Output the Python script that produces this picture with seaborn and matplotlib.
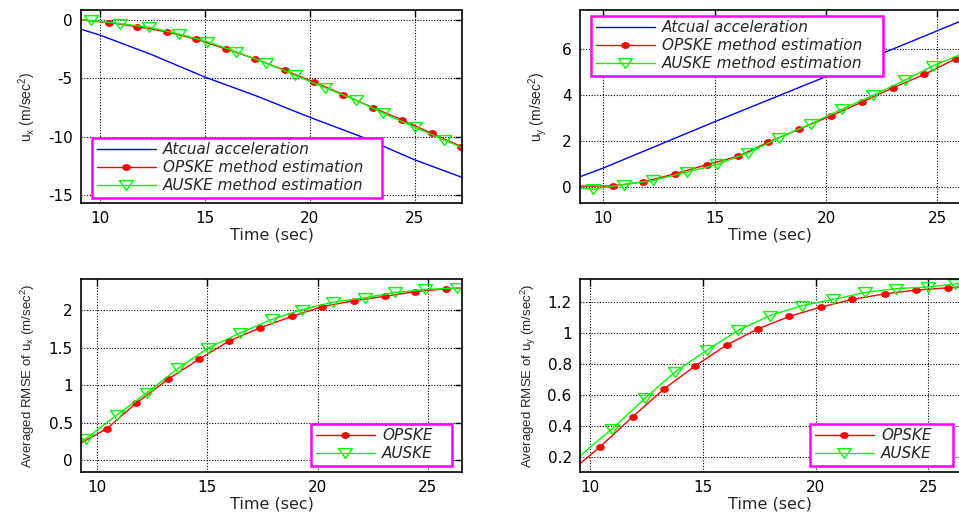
import numpy as np
import pandas as pd
import seaborn as sns
import matplotlib
matplotlib.use("Agg")
import matplotlib.pyplot as plt
from matplotlib.lines import Line2D
from matplotlib.path import Path
from matplotlib.ticker import FormatStrFormatter

# ---------------- data ----------------
# top-left: u_x
t_ux_actual = [9.1, 10.0, 12.5, 15.0, 17.5, 20.0, 22.5, 25.0, 27.25]
ux_actual = [-0.8, -1.3, -3.0, -4.9, -6.55, -8.35, -10.05, -12.0, -13.5]
t_ux_opske = [9.1, 10.43, 11.76, 13.2, 14.6, 16.0, 17.4, 18.8, 20.2, 21.6, 23.0, 24.4, 25.8, 27.22]
ux_opske = [0.0, -0.23, -0.57, -1.03, -1.66, -2.49, -3.34, -4.31, -5.34, -6.4, -7.52, -8.58, -9.72, -10.86]
t_ux_auske = [9.1, 9.6, 10.95, 12.35, 13.75, 15.1, 16.5, 17.9, 19.3, 20.7, 22.2, 23.5, 25.0, 26.4, 27.25]
ux_auske = [0.02, -0.05, -0.32, -0.63, -1.2, -1.86, -2.74, -3.68, -4.75, -5.8, -6.88, -8.0, -9.2, -10.3, -10.95]

# top-right: u_y
t_uy_actual = [8.95, 10.0, 15.0, 20.0, 25.0, 26.0]
uy_actual = [0.46, 0.84, 2.85, 4.81, 6.8, 7.2]
t_uy_opske = [8.95, 10.42, 11.8, 13.23, 14.64, 16.06, 17.4, 18.8, 20.21, 21.63, 23.02, 24.41, 25.82, 26.0]
uy_opske = [0.05, 0.06, 0.24, 0.59, 0.98, 1.35, 1.96, 2.53, 3.1, 3.71, 4.33, 4.9, 5.58, 5.64]
t_uy_auske = [8.95, 9.55, 10.93, 12.25, 13.75, 15.12, 16.51, 17.89, 19.31, 20.73, 22.12, 23.55, 24.82, 26.0]
uy_auske = [-0.04, -0.08, 0.12, 0.3, 0.66, 1.0, 1.5, 2.15, 2.76, 3.4, 4.0, 4.66, 5.28, 5.75]

# bottom-left: RMSE of u_x
t_rx_opske = [9.29, 10.45, 11.78, 13.22, 14.64, 15.98, 17.41, 18.84, 20.2, 21.63, 23.06, 24.39, 25.8, 26.54]
rx_opske = [0.23, 0.42, 0.76, 1.08, 1.35, 1.59, 1.77, 1.92, 2.05, 2.13, 2.19, 2.25, 2.29, 2.30]
t_rx_auske = [9.29, 9.52, 10.9, 12.27, 13.7, 15.06, 16.5, 17.93, 19.29, 20.68, 22.16, 23.52, 24.88, 26.31, 26.54]
rx_auske = [0.25, 0.29, 0.6, 0.9, 1.23, 1.5, 1.7, 1.88, 2.01, 2.11, 2.17, 2.24, 2.28, 2.3, 2.31]

# bottom-right: RMSE of u_y
t_ry_opske = [9.56, 10.44, 11.89, 13.28, 14.67, 16.06, 17.46, 18.84, 20.23, 21.63, 23.08, 24.46, 25.86, 26.4]
ry_opske = [0.157, 0.265, 0.46, 0.64, 0.79, 0.925, 1.03, 1.11, 1.17, 1.22, 1.256, 1.28, 1.295, 1.30]
t_ry_auske = [9.56, 11.0, 12.44, 13.77, 15.17, 16.58, 17.98, 19.39, 20.79, 22.2, 23.57, 25.0, 26.18, 26.4]
ry_auske = [0.207, 0.384, 0.58, 0.75, 0.89, 1.02, 1.115, 1.18, 1.22, 1.265, 1.29, 1.30, 1.32, 1.325]

xticks = [10, 15, 20, 25]
legend_top = ["Atcual acceleration", "OPSKE method estimation", "AUSKE method estimation"]
legend_bottom = ["OPSKE", "AUSKE"]

# ---------------- style ----------------
sns.set_style("white")
plt.rcParams["font.family"] = ["DejaVu Sans"]
plt.rcParams["axes.unicode_minus"] = False

NARROW = ["Liberation Sans Narrow", "Liberation Sans", "DejaVu Sans"]
BLUE = (0, 0, 1)
RED = (1, 0, 0)
GREEN = (0, 1, 0)
MAGENTA = (1, 0, 1)

# markers slightly wider than tall (as in the horizontally stretched original)
_ang = np.linspace(0, 2 * np.pi, 25)
DOT = Path(np.column_stack([np.cos(_ang), 0.75 * np.sin(_ang)]), closed=True)
TRI = Path([(-1, 0.7), (1, 0.7), (0, -0.7), (-1, 0.7)], closed=True)
DOT_MS = 5.2
TRI_MS = 10

fig = plt.figure(figsize=(9.59, 5.13), dpi=100)
W, H = 959, 513


def axes_px(x0, y0, x1, y1):
    return fig.add_axes([x0 / W, 1 - y1 / H, (x1 - x0) / W, (y1 - y0) / H])


ax_tl = axes_px(81, 10, 462, 203)
ax_tr = axes_px(580, 10, 959, 203)
ax_bl = axes_px(81, 279, 462, 472)
ax_br = axes_px(580, 279, 959, 472)


def draw(ax, t, v, color, marker=None, ms=None, mfc=None, markevery=None):
    df = pd.DataFrame({"t": t, "v": v})
    kw = dict(color=color, linewidth=1.0, estimator=None, sort=False, ax=ax, legend=False)
    if marker is not None:
        kw.update(marker=marker, markersize=ms, markevery=markevery,
                  markerfacecolor=mfc, markeredgecolor=color, markeredgewidth=1.0)
    sns.lineplot(data=df, x="t", y="v", **kw)


def style(ax, xlim, ylim, yticks, yfmt=None, right_cut=False):
    ax.set_xlim(*xlim)
    ax.set_ylim(*ylim)
    ax.set_xticks(xticks)
    ax.set_yticks(yticks)
    if yfmt:
        ax.yaxis.set_major_formatter(FormatStrFormatter(yfmt))
    ax.grid(True, color="k", linestyle=(0, (1, 1.5)), linewidth=0.8)
    ax.tick_params(direction="in", length=5, width=1, top=True, right=not right_cut,
                   labelsize=11, colors="k", pad=6)
    for s in ax.spines.values():
        s.set_color("k")
        s.set_linewidth(1.2)
    if right_cut:
        ax.spines["right"].set_visible(False)
    ax.set_xlabel("Time (sec)", fontsize=11.5, labelpad=1)


def legend(ax, labels, bbox, fontsize):
    handles = []
    if len(labels) == 3:
        handles.append(Line2D([], [], color=BLUE, linewidth=1.0))
    handles.append(Line2D([], [], color=RED, linewidth=1.0, marker=DOT, markersize=DOT_MS,
                          markerfacecolor=RED, markeredgecolor=RED))
    handles.append(Line2D([], [], color=GREEN, linewidth=1.0, marker=TRI, markersize=TRI_MS,
                          markerfacecolor="none", markeredgecolor=GREEN))
    leg = ax.legend(handles, labels, loc="lower left", bbox_to_anchor=bbox, mode="expand",
                    bbox_transform=fig.transFigure, prop={"style": "italic", "size": fontsize},
                    handlelength=3.9, handletextpad=0.45, labelspacing=0.2, borderpad=0.3,
                    borderaxespad=0, fancybox=False, framealpha=1, numpoints=1)
    fr = leg.get_frame()
    fr.set_edgecolor(MAGENTA)
    fr.set_linewidth(1.8)
    return leg


def bbox_px(x0, y0, x1, y1):
    return (x0 / W, 1 - y1 / H, (x1 - x0) / W, (y1 - y0) / H)


# top-left
draw(ax_tl, t_ux_actual, ux_actual, BLUE)
draw(ax_tl, t_ux_opske, ux_opske, RED, DOT, DOT_MS, RED, slice(1, None))
draw(ax_tl, t_ux_auske, ux_auske, GREEN, TRI, TRI_MS, "none", slice(1, -1))
style(ax_tl, (9.1, 27.25), (-15.7, 0.85), [0, -5, -10, -15])
ax_tl.set_ylabel(r"u$_{\mathregular{x}}$ (m/sec$^{\mathregular{2}}$)", fontsize=10, labelpad=7,
                 family=NARROW)
legend(ax_tl, legend_top, bbox_px(92, 139, 382, 198), 11)

# top-right
draw(ax_tr, t_uy_actual, uy_actual, BLUE)
draw(ax_tr, t_uy_opske, uy_opske, RED, DOT, DOT_MS, RED, slice(1, -1))
draw(ax_tr, t_uy_auske, uy_auske, GREEN, TRI, TRI_MS, "none", slice(1, -1))
style(ax_tr, (8.95, 25.97), (-0.68, 7.7), [0, 2, 4, 6], right_cut=True)
ax_tr.set_ylabel(r"u$_{\mathregular{y}}$ (m/sec$^{\mathregular{2}}$)", fontsize=10, labelpad=9,
                 family=NARROW)
legend(ax_tr, legend_top, bbox_px(591, 17, 883, 76), 11)

# bottom-left
draw(ax_bl, t_rx_opske, rx_opske, RED, DOT, DOT_MS, RED, slice(1, -1))
draw(ax_bl, t_rx_auske, rx_auske, GREEN, TRI, TRI_MS, "none", slice(1, -1))
style(ax_bl, (9.29, 26.54), (-0.157, 2.42), [0, 0.5, 1, 1.5, 2], yfmt="%g")
ax_bl.set_ylabel(r"Averaged RMSE of u$_{\mathregular{x}}$ (m/sec$^{\mathregular{2}}$)", fontsize=9.5,
                 labelpad=8, family=NARROW)
legend(ax_bl, legend_bottom, bbox_px(311, 425, 452, 466), 11)

# bottom-right
draw(ax_br, t_ry_opske, ry_opske, RED, DOT, DOT_MS, RED, slice(1, -1))
draw(ax_br, t_ry_auske, ry_auske, GREEN, TRI, TRI_MS, "none", slice(1, -1))
style(ax_br, (9.56, 26.36), (0.103, 1.352), [0.2, 0.4, 0.6, 0.8, 1.0, 1.2], yfmt="%g", right_cut=True)
ax_br.set_ylabel(r"Averaged RMSE of u$_{\mathregular{y}}$ (m/sec$^{\mathregular{2}}$)", fontsize=9.5,
                 labelpad=7, family=NARROW)
legend(ax_br, legend_bottom, bbox_px(810, 426, 953, 466), 11)

fig.savefig("out.png", dpi=100)
